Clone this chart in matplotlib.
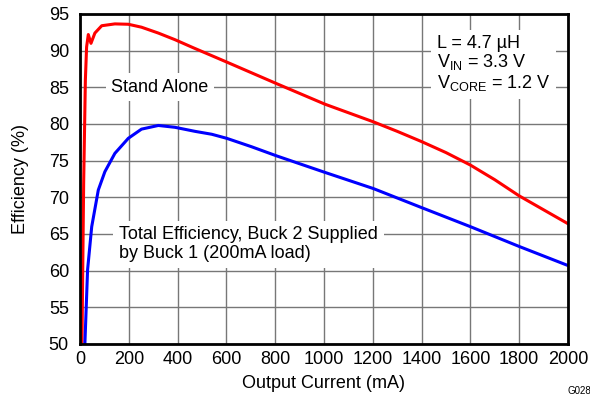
import numpy as np
import matplotlib
matplotlib.use('Agg')
from matplotlib import pyplot as plt

plt.rcParams['font.family'] = ['Liberation Sans', 'DejaVu Sans']
plt.rcParams['mathtext.fontset'] = 'custom'
plt.rcParams['mathtext.rm'] = 'Liberation Sans'
plt.rcParams['mathtext.it'] = 'Liberation Sans:italic'

# stand alone efficiency (red)
red_x = [8, 15, 22, 27, 34, 45, 61, 89, 143, 198, 252, 321, 389, 464, 601,
         806, 1004, 1202, 1300, 1400, 1500, 1600, 1700, 1800, 2000]
red_y = [50, 72, 86, 90.5, 92.2, 91.0, 92.4, 93.4, 93.65, 93.6, 93.2, 92.4,
         91.5, 90.4, 88.45, 85.5, 82.7, 80.3, 79.0, 77.6, 76.1, 74.4, 72.4,
         70.2, 66.4]

# total efficiency, buck 2 supplied by buck 1 (blue)
blue_x = [20, 31, 48, 75, 102, 143, 198, 252, 321, 389, 471, 540, 601, 703,
          806, 1004, 1202, 1400, 1600, 1800, 2000]
blue_y = [50, 60.1, 66.0, 71.0, 73.5, 76.0, 78.05, 79.3, 79.8, 79.55, 79.0,
          78.6, 78.05, 76.9, 75.65, 73.4, 71.2, 68.6, 66.0, 63.3, 60.7]

xticks = list(range(0, 2001, 200))
yticks = list(range(50, 96, 5))

fig = plt.figure(figsize=(5.9, 4.0), dpi=100)
ax = fig.add_axes([0.1356, 0.14, 0.8271, 0.825])

ax.plot(red_x, red_y, color='#ff0000', lw=2.2, zorder=3)
ax.plot(blue_x, blue_y, color='#0000ff', lw=2.2, zorder=3)

ax.set_xlim(0, 2000)
ax.set_ylim(50, 95)
ax.set_xticks(xticks)
ax.set_yticks(yticks)
ax.grid(True, color='#777777', lw=1.0)
ax.tick_params(length=0, labelsize=13)
ax.tick_params(axis='y', pad=8)
ax.tick_params(axis='x', pad=5)
for s in ax.spines.values():
    s.set_linewidth(2.0)
    s.set_zorder(5)

ax.set_xlabel('Output Current (mA)', fontsize=13, labelpad=5)
ax.set_ylabel('Efficiency (%)', fontsize=13, labelpad=14)

box = dict(facecolor='white', edgecolor='none', pad=4)
ax.text(328, 85, 'Stand Alone', fontsize=13, ha='center', va='center',
        bbox=box, zorder=4)
ax.text(160, 63.6, 'Total Efficiency, Buck 2 Supplied\nby Buck 1 (200mA load)',
        fontsize=13, ha='left', va='center', linespacing=1.15, bbox=box, zorder=4)
ax.text(1462, 88.2,
        'L = 4.7 µH\nV$_{\\mathrm{IN}}$ = 3.3 V\nV$_{\\mathrm{CORE}}$ = 1.2 V',
        fontsize=13, ha='left', va='center', linespacing=1.05, bbox=box, zorder=4)

fig.text(0.962, 0.01, 'G028', fontsize=7, ha='left', va='bottom')

fig.savefig('out.png', dpi=100)
